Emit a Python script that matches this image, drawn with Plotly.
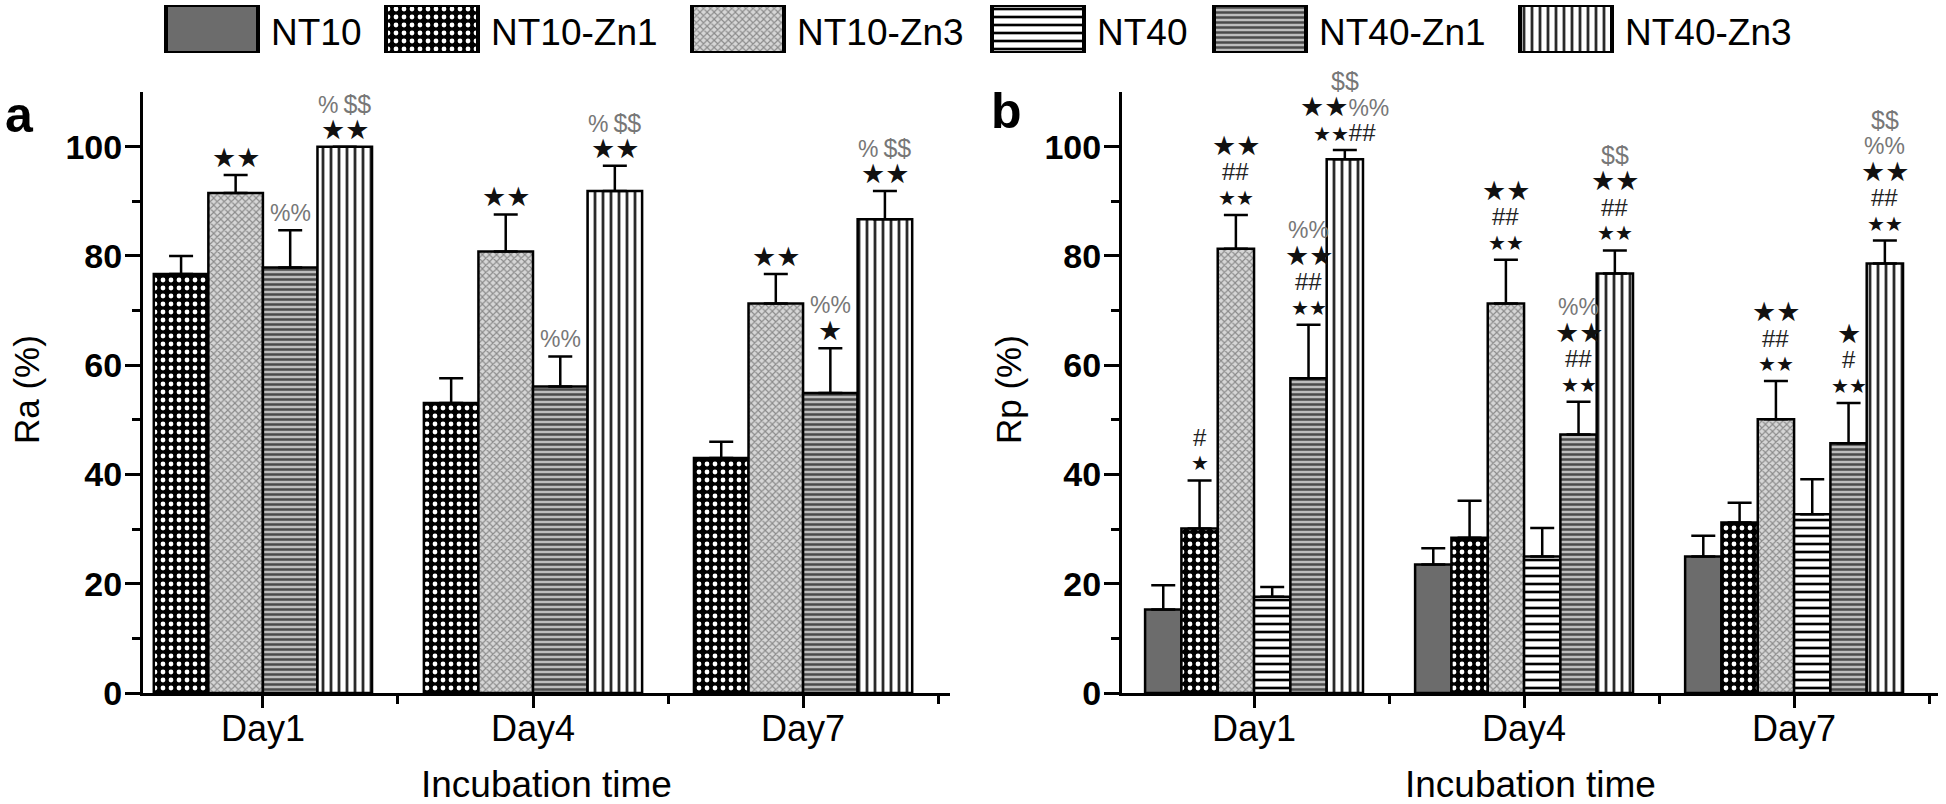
import plotly.graph_objects as go

W, H = 1946, 804

# ------------------------------------------------------------------ data
DAYS = ["Day1", "Day4", "Day7"]
SERIES = ["NT10", "NT10-Zn1", "NT10-Zn3", "NT40", "NT40-Zn1", "NT40-Zn3"]
Y_TICKS = [0, 20, 40, 60, 80, 100]

# Panel a : Ra (%)
RA_NT10_ZN1 = [76.7, 53.1, 43.0]
RA_NT10_ZN1_ERR = [3.3, 4.5, 3.0]
RA_NT10_ZN3 = [91.5, 80.8, 71.3]
RA_NT10_ZN3_ERR = [3.3, 6.8, 5.4]
RA_NT40_ZN1 = [77.9, 56.1, 54.9]
RA_NT40_ZN1_ERR = [6.8, 5.5, 8.2]
RA_NT40_ZN3 = [100.0, 91.9, 86.7]
RA_NT40_ZN3_ERR = [0.0, 4.6, 5.2]

# significance marks, lines listed bottom -> top, separated by "|"
# "*" = small star, "★" = large star
RA_SIG_NT10_ZN1 = ["", "", ""]
RA_SIG_NT10_ZN3 = ["★★", "★★", "★★"]
RA_SIG_NT40_ZN1 = ["%%", "%%", "★|%%"]
RA_SIG_NT40_ZN3 = ["★★|% $$", "★★|% $$", "★★|% $$"]

# Panel b : Rp (%)
RP_NT10 = [15.3, 23.5, 25.0]
RP_NT10_ERR = [4.4, 3.0, 3.8]
RP_NT10_ZN1 = [30.1, 28.4, 31.2]
RP_NT10_ZN1_ERR = [8.8, 6.8, 3.6]
RP_NT10_ZN3 = [81.3, 71.3, 50.1]
RP_NT10_ZN3_ERR = [6.2, 8.0, 7.0]
RP_NT40 = [17.6, 25.0, 32.7]
RP_NT40_ERR = [1.8, 5.2, 6.4]
RP_NT40_ZN1 = [57.6, 47.3, 45.7]
RP_NT40_ZN1_ERR = [9.8, 6.0, 7.4]
RP_NT40_ZN3 = [97.7, 76.8, 78.6]
RP_NT40_ZN3_ERR = [1.7, 4.2, 4.2]

RP_SIG_NT10 = ["", "", ""]
RP_SIG_NT10_ZN1 = ["*|#", "", ""]
RP_SIG_NT10_ZN3 = ["**|##|★★", "**|##|★★", "**|##|★★"]
RP_SIG_NT40 = ["", "", ""]
RP_SIG_NT40_ZN1 = ["**|##|★★|%%", "**|##|★★|%%", "**|#|★"]
RP_SIG_NT40_ZN3 = ["**##|★★%%|$$", "**|##|★★|$$", "**|##|★★|%%|$$"]

# ------------------------------------------------------------------ styles
FONT = "Arial, 'Liberation Sans', 'DejaVu Sans', sans-serif"
STYLE = {
    "NT10": dict(color="#6c6c6c", pattern=None),
    "NT10-Zn1": dict(color="#000000",
                     pattern=dict(shape=".", bgcolor="#000000", fgcolor="#ffffff",
                                  size=8, solidity=0.28)),
    "NT10-Zn3": dict(color="#b0b0b0",
                     pattern=dict(shape="x", bgcolor="#d6d6d6", fgcolor="#8a8a8a",
                                  size=5, solidity=0.4)),
    "NT40": dict(color="#ffffff",
                 pattern=dict(shape="-", bgcolor="#ffffff", fgcolor="#000000",
                              size=8, solidity=0.33)),
    "NT40-Zn1": dict(color="#888888",
                     pattern=dict(shape="-", bgcolor="#bdbdbd", fgcolor="#4a4a4a",
                                  size=5, solidity=0.5)),
    "NT40-Zn3": dict(color="#ffffff",
                     pattern=dict(shape="|", bgcolor="#ffffff", fgcolor="#2a2a2a",
                                  size=8, solidity=0.35)),
}
SIG_STYLE = {
    "★": (27, "#111111"),
    "*": (20, "#111111"),
    "#": (24, "#222222"),
    "%": (23, "#777777"),
    "$": (25, "#777777"),
    " ": (18, "#000000"),
}


def marker_for(name, line_w=2.5):
    st = STYLE[name]
    m = dict(color=st["color"], line=dict(color="black", width=line_w))
    if st["pattern"] is not None:
        p = dict(st["pattern"])
        p["fillmode"] = "replace"
        m["pattern"] = p
    return m


def sig_line_html(line):
    out = []
    i = 0
    while i < len(line):
        c = line[i]
        j = i
        while j < len(line) and line[j] == c:
            j += 1
        size, col = SIG_STYLE[c]
        glyph = "★" if c in "★*" else c
        out.append(f"<span style='font-size:{size}px;color:{col}'>{glyph * (j - i)}</span>")
        i = j
    return "".join(out)


fig = go.Figure()
annotations = []
X = [i + 1 for i in range(len(DAYS))]

PANELS = [
    dict(xa="x", ya="y", bw=0.202,
         series=[("NT10-Zn1", RA_NT10_ZN1, RA_NT10_ZN1_ERR, RA_SIG_NT10_ZN1),
                 ("NT10-Zn3", RA_NT10_ZN3, RA_NT10_ZN3_ERR, RA_SIG_NT10_ZN3),
                 ("NT40-Zn1", RA_NT40_ZN1, RA_NT40_ZN1_ERR, RA_SIG_NT40_ZN1),
                 ("NT40-Zn3", RA_NT40_ZN3, RA_NT40_ZN3_ERR, RA_SIG_NT40_ZN3)]),
    dict(xa="x2", ya="y2", bw=0.1345,
         series=[("NT10", RP_NT10, RP_NT10_ERR, RP_SIG_NT10),
                 ("NT10-Zn1", RP_NT10_ZN1, RP_NT10_ZN1_ERR, RP_SIG_NT10_ZN1),
                 ("NT10-Zn3", RP_NT10_ZN3, RP_NT10_ZN3_ERR, RP_SIG_NT10_ZN3),
                 ("NT40", RP_NT40, RP_NT40_ERR, RP_SIG_NT40),
                 ("NT40-Zn1", RP_NT40_ZN1, RP_NT40_ZN1_ERR, RP_SIG_NT40_ZN1),
                 ("NT40-Zn3", RP_NT40_ZN3, RP_NT40_ZN3_ERR, RP_SIG_NT40_ZN3)]),
]

for pan in PANELS:
    n = len(pan["series"])
    bw = pan["bw"]
    for k, (name, mean, err, sig) in enumerate(pan["series"]):
        off = -n * bw / 2 + k * bw
        fig.add_trace(go.Bar(
            x=X, y=mean, name=name, showlegend=False,
            xaxis=pan["xa"], yaxis=pan["ya"],
            width=bw, offset=off,
            marker=marker_for(name),
            error_y=dict(type="data", symmetric=False, array=err,
                         arrayminus=[0] * len(err), color="black",
                         thickness=2.5, width=12),
        ))
        for d in range(len(DAYS)):
            if not sig[d]:
                continue
            for li, line in enumerate(sig[d].split("|")):
                annotations.append(dict(
                    x=X[d] + off + bw / 2, y=mean[d] + err[d],
                    xref=pan["xa"], yref=pan["ya"],
                    text=sig_line_html(line), showarrow=False,
                    xanchor="center", yanchor="middle",
                    yshift=17 + 26 * li,
                    font=dict(family=FONT, size=20, color="black"),
                ))

# ------------------------------------------------------------------ legend (drawn swatches)
LEG_LEFT = [166, 386, 692, 992, 1214, 1520]
LEG_BOX_W = 92
for name, left in zip(SERIES, LEG_LEFT):
    fig.add_trace(go.Bar(
        x=[left + LEG_BOX_W / 2], y=[1], base=[0], width=[LEG_BOX_W],
        xaxis="x3", yaxis="y3", showlegend=False, hoverinfo="skip",
        marker=marker_for(name, line_w=4),
    ))
    annotations.append(dict(
        x=(left + LEG_BOX_W + 11) / W, y=(H - 32) / H, xref="paper", yref="paper",
        text=name, showarrow=False, xanchor="left", yanchor="middle",
        font=dict(family=FONT, size=37, color="black"),
    ))


# ------------------------------------------------------------------ titles
def py(px):
    return (H - px) / H


def title_ann(x, y, text, size, angle=0):
    return dict(x=x / W, y=py(y), xref="paper", yref="paper", text=text, textangle=angle,
                showarrow=False, xanchor="center", yanchor="middle",
                font=dict(family=FONT, size=size, color="black"))


annotations += [
    title_ann(27, 390, "Ra (%)", 35, -90),
    title_ann(1009, 390, "Rp (%)", 35, -90),
    title_ann(546, 784, "Incubation time", 37),
    title_ann(1530, 784, "Incubation time", 37),
    title_ann(19, 115, "<b>a</b>", 50),
    title_ann(1007, 111, "<b>b</b>", 50),
]

Y_DOM = [py(693), py(92)]


def xaxis_cfg(dom, rng, anchor):
    return dict(domain=dom, range=rng, anchor=anchor, showline=True, linewidth=3,
                linecolor="black", ticks="outside", ticklen=12, tickwidth=3,
                tickcolor="black", tickmode="array", tickvals=X, ticktext=DAYS,
                tickfont=dict(family=FONT, size=36, color="black"),
                ticklabelstandoff=-10,
                showgrid=False, zeroline=False, automargin=False,
                minor=dict(tickmode="array", tickvals=[1.5, 2.5, 3.5], ticks="outside",
                           ticklen=8, tickwidth=3, tickcolor="black", showgrid=False))


def yaxis_cfg(anchor):
    return dict(domain=Y_DOM, range=[0, 110], anchor=anchor, showline=True, linewidth=3,
                linecolor="black", ticks="outside", ticklen=15, tickwidth=3,
                tickcolor="black", tickmode="array", tickvals=Y_TICKS,
                tickfont=dict(family=FONT, size=34, color="black", weight="bold"),
                ticklabelstandoff=-4,
                showgrid=False, zeroline=False, automargin=False,
                minor=dict(tickmode="array", tickvals=[10, 30, 50, 70, 90], ticks="outside",
                           ticklen=8, tickwidth=3, tickcolor="black", showgrid=False))


fig.update_layout(
    width=W, height=H, autosize=False,
    margin=dict(l=0, r=0, t=0, b=0, pad=0, autoexpand=False),
    paper_bgcolor="white", plot_bgcolor="white",
    barmode="overlay", showlegend=False, hovermode=False,
    font=dict(family=FONT, color="black"),
    xaxis=xaxis_cfg([143 / W, 950 / W], [0.556, 3.544], "y"),
    yaxis=yaxis_cfg("x"),
    xaxis2=xaxis_cfg([1122 / W, 1938 / W], [0.511, 3.533], "y2"),
    yaxis2=yaxis_cfg("x2"),
    xaxis3=dict(domain=[0, 1], range=[0, W], anchor="y3", visible=False, fixedrange=True),
    yaxis3=dict(domain=[py(53), py(5)], range=[0, 1], anchor="x3", visible=False,
                fixedrange=True),
    annotations=annotations,
)

# remove the browser's default page margin so the figure sits at the window origin
fig.write_html("out.html",
               config={"displayModeBar": False, "staticPlot": True},
               post_script="document.body.style.margin='0px';"
                           "document.body.style.overflow='hidden';")
